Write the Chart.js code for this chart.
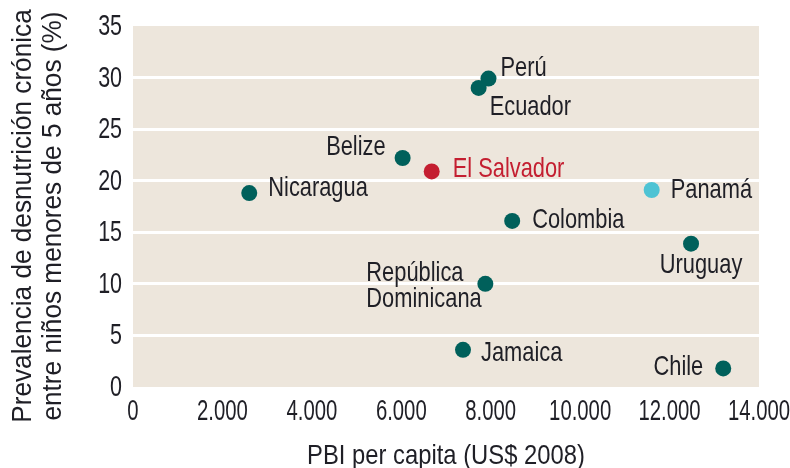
<!DOCTYPE html>
<html>
<head>
<meta charset="utf-8">
<script src="https://cdn.jsdelivr.net/npm/chart.js@4/dist/chart.umd.min.js"></script>
<style>
  html, body { margin: 0; padding: 0; background: #fff; }
  #wrap { width: 790px; height: 468px; }
</style>
</head>
<body>
<div id="wrap"><canvas id="desnutricionChart" width="790" height="468"></canvas></div>
<script>
// datos
const paises = ['Nicaragua', 'Belize', 'El Salvador', 'Perú', 'Ecuador', 'Colombia', 'Panamá', 'Uruguay', 'República\nDominicana', 'Jamaica', 'Chile']
const pbiPerCapita = [2600, 6030, 6680, 7950, 7730, 8480, 11600, 12480, 7880, 7380, 13200]
const desnutricion = [18.8, 22.2, 20.9, 29.9, 29.0, 16.1, 19.1, 13.9, 10.0, 3.6, 1.8]
const xTicks = [0, 2000, 4000, 6000, 8000, 10000, 12000, 14000]
const yTicks = [0, 5, 10, 15, 20, 25, 30, 35]
const xTitulo = 'PBI per capita (US$ 2008)'
const yTitulo = ['Prevalencia de desnutrición crónica', 'entre niños menores de 5 años (%)']

const tealColor = '#00605b'
const redColor = '#c41e30'
const cyanColor = '#4ec3d4'
const textColor = '#1f1f26'
const fontFam = '"Liberation Sans", Arial, sans-serif'

function colorPais(p) {
	if (p === 'El Salvador') return redColor
	if (p === 'Panamá') return cyanColor
	return tealColor
}

// donde va cada etiqueta respecto al punto [dx, dy, align]
const etiquetas = {
	'Nicaragua': [19, -5, 'left'],
	'Belize': [-17, -11, 'right'],
	'El Salvador': [21, -2, 'left'],
	'Perú': [12, -10, 'left'],
	'Ecuador': [11, 19, 'left'],
	'Colombia': [20, -1, 'left'],
	'Panamá': [19, 0, 'left'],
	'Uruguay': [10, 22, 'center'],
	'República\nDominicana': [-119, 2, 'left'],
	'Jamaica': [18, 3, 'left'],
	'Chile': [-20, -1, 'right'],
}

// texto "condensado": se estrecha en horizontal
function texto(ctx, str, x, y, size, sx, align, color, rot) {
	ctx.save()
	ctx.translate(x, y)
	if (rot) ctx.rotate(rot)
	ctx.scale(sx, 1)
	ctx.font = size + 'px ' + fontFam
	ctx.textAlign = align
	ctx.textBaseline = 'middle'
	ctx.fillStyle = color
	ctx.fillText(str, 0, 0)
	ctx.restore()
}

function conPuntos(v) {
	return v.toString().replace(/\B(?=(\d{3})+(?!\d))/g, '.')
}

const fondoPlugin = {
	id: 'fondo',
	beforeDraw(chart) {
		const a = chart.chartArea
		const ctx = chart.ctx
		ctx.save()
		ctx.fillStyle = '#ede6dc'
		ctx.fillRect(a.left, a.top, a.right - a.left, a.bottom - a.top)
		ctx.restore()
	},
	afterDraw(chart) {
		const ctx = chart.ctx
		const a = chart.chartArea
		const sx = chart.scales.x
		const sy = chart.scales.y
		yTicks.forEach(function (v) {
			texto(ctx, String(v), a.left - 11, sy.getPixelForValue(v) + 1, 29, 0.74, 'right', textColor)
		})
		xTicks.forEach(function (v) {
			texto(ctx, conPuntos(v), sx.getPixelForValue(v), a.bottom + 25, 29, 0.70, 'center', textColor)
		})
		texto(ctx, xTitulo, (a.left + a.right) / 2, 456, 28, 0.85, 'center', textColor)
		texto(ctx, yTitulo[0], 24, 216, 27, 0.97, 'center', textColor, -Math.PI / 2)
		texto(ctx, yTitulo[1], 54, 216, 27, 0.97, 'center', textColor, -Math.PI / 2)
	}
}

const etiquetasPlugin = {
	id: 'etiquetas',
	afterDatasetsDraw(chart) {
		const ctx = chart.ctx
		const meta = chart.getDatasetMeta(0)
		meta.data.forEach(function (pt, i) {
			const nombre = paises[i]
			const e = etiquetas[nombre] || [15, 0, 'left']
			const color = nombre === 'El Salvador' ? redColor : textColor
			const lineas = nombre.split('\n')
			const h = 26
			const y0 = pt.y + e[1] - (lineas.length - 1) * h / 2
			lineas.forEach(function (l, j) {
				texto(ctx, l, pt.x + e[0], y0 + j * h, 28, 0.78, e[2], color)
			})
		})
	}
}

const puntos = pbiPerCapita.map(function (x, i) { return { x: x, y: desnutricion[i] } })

new Chart(document.getElementById('desnutricionChart'), {
	type: 'scatter',
	data: {
		datasets: [{
			data: puntos,
			backgroundColor: paises.map(colorPais),
			borderColor: paises.map(colorPais),
			borderWidth: 0,
			pointRadius: 8,
			pointHoverRadius: 8,
		}]
	},
	options: {
		responsive: false,
		animation: false,
		events: [],
		layout: { padding: { top: 26, right: 31, left: 0, bottom: 0 } },
		plugins: {
			legend: { display: false },
			tooltip: { enabled: false },
		},
		scales: {
			x: {
				type: 'linear',
				min: 0,
				max: 14000,
				afterBuildTicks(axis) { axis.ticks = xTicks.map(function (v) { return { value: v } }) },
				afterFit(axis) { axis.height = 81 },
				border: { display: false },
				grid: { display: false, drawTicks: false },
				ticks: { display: false }
			},
			y: {
				min: 0,
				max: 35,
				afterBuildTicks(axis) { axis.ticks = yTicks.map(function (v) { return { value: v } }) },
				afterFit(axis) { axis.width = 133 },
				border: { display: false },
				grid: {
					drawTicks: false,
					lineWidth: 3,
					color: function (c) { return (c.tick.value > 0 && c.tick.value < 35) ? '#ffffff' : 'rgba(0,0,0,0)' }
				},
				ticks: { display: false }
			}
		}
	},
	plugins: [fondoPlugin, etiquetasPlugin]
})
</script>
</body>
</html>
